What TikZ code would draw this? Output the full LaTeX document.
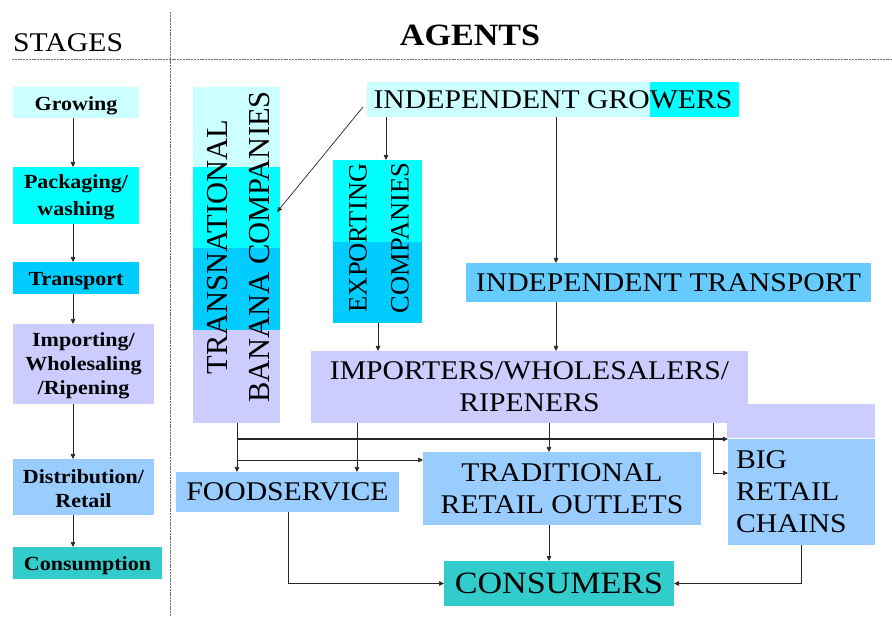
\documentclass[tikz,border=0pt]{standalone}
\usepackage{fontspec}
\setmainfont{Liberation Serif}[FakeStretch=1.1]
\newfontfamily\rotfont{Liberation Serif}
\usetikzlibrary{arrows.meta}
\definecolor{cLCyan}{HTML}{CCFFFF}
\definecolor{cCyan}{HTML}{00FFFF}
\definecolor{cSky}{HTML}{00CCFF}
\definecolor{cLav}{HTML}{CCCCFF}
\definecolor{cPale}{HTML}{99CCFF}
\definecolor{cTeal}{HTML}{33CCCC}
\definecolor{cTrans}{HTML}{66CCFF}
\newcommand\agfont{\fontsize{27}{32}\selectfont}
\newcommand\stgfont{\fontsize{20}{24}\selectfont\bfseries}
\begin{document}
\begin{tikzpicture}[x=1pt,y=-1pt,
  box/.style={rectangle, inner sep=0pt, outer sep=0pt, align=center, font=\agfont},
  stg/.style={rectangle, inner sep=0pt, outer sep=0pt},
  stgtext/.style={inner sep=0pt, align=center, font=\stgfont},
  arr/.style={draw=black!85, line width=0.7pt, -{Triangle[length=5pt,width=4.5pt]}},
  divider/.style={draw=black!55, line width=1pt, dash pattern=on 2pt off 0.8pt}]
\useasboundingbox[fill=white] (0,0) rectangle (892,617);

% dividers
\draw[divider] (170,12) -- (170,617);
\draw[divider] (12,59.5) -- (892,59.5);

% headings
\node[anchor=base west, inner sep=0pt, font=\fontsize{27}{32}\selectfont] (hstages) at (13,52) {STAGES};
\node[anchor=base, inner sep=0pt, font=\fontsize{31}{36}\selectfont\bfseries] (hagents) at (470,46) {AGENTS};

% stages
\node[stg, fill=cLCyan, minimum width=126pt, minimum height=31pt,
  label={[stgtext, yshift=-3pt]center:Growing}] (grow) at (76,102.5) {};
\node[stg, fill=cCyan, minimum width=126pt, minimum height=57pt,
  label={[stgtext, yshift=-2pt, font=\fontsize{20}{27}\selectfont\bfseries]center:{Packaging/\\washing}}] (pack) at (76,195.5) {};
\node[stg, fill=cSky, minimum width=126pt, minimum height=32pt,
  label={[stgtext, yshift=-3pt]center:Transport}] (trsp) at (76,278) {};
\node[stg, fill=cLav, minimum width=141pt, minimum height=80pt,
  label={[stgtext, yshift=-2pt]center:{Importing/\\Wholesaling\\/Ripening}}] (imps) at (83.5,364) {};
\node[stg, fill=cPale, minimum width=141pt, minimum height=56pt,
  label={[stgtext, yshift=-2pt]center:{Distribution/\\Retail}}] (dist) at (83.5,487) {};
\node[stg, fill=cTeal, minimum width=149pt, minimum height=32pt,
  label={[stgtext, yshift=-3pt]center:Consumption}] (cons) at (87.5,563) {};

\coordinate (xa) at (73,0);
\draw[arr] (grow.south -| xa) -- (pack.north -| xa);
\draw[arr] (pack.south -| xa) -- (trsp.north -| xa);
\draw[arr] (trsp.south -| xa) -- (imps.north -| xa);
\draw[arr] (imps.south -| xa) -- (dist.north -| xa);
\draw[arr] (dist.south -| xa) -- (cons.north -| xa);

% agents: fills
\fill[cLCyan] (367,82) rectangle (650,117);
\fill[cCyan] (650,82) rectangle (739,117);
\fill[cLCyan] (193,87) rectangle (280,167);
\fill[cCyan] (193,167) rectangle (280,248);
\fill[cSky] (193,248) rectangle (280,330);
\fill[cLav] (193,330) rectangle (280,423);
\fill[cCyan] (333,160) rectangle (422,242);
\fill[cSky] (333,242) rectangle (422,323);
\fill[cLav] (727,404) rectangle (875,438);

\node[box, minimum width=372pt, minimum height=35pt] (ig) at (553,99.5) {INDEPENDENT GROWERS};
\node[box, minimum width=87pt, minimum height=336pt] (tn) at (236.5,255) {};
\node[rotate=90, inner sep=0pt, align=center, font=\rotfont\fontsize{30.5}{42}\selectfont] (tntext) at (239,247) {TRANSNATIONAL\\BANANA COMPANIES};
\node[box, minimum width=89pt, minimum height=163pt] (exp) at (377.5,241.5) {};
\node[rotate=90, inner sep=0pt, align=center, font=\rotfont\fontsize{26.5}{42}\selectfont] (exptext) at (379,238) {EXPORTING\\COMPANIES};
\node[box, fill=cTrans, minimum width=405pt, minimum height=39pt] (tr) at (668.5,282.5) {INDEPENDENT TRANSPORT};
\node[box, fill=cLav, minimum width=437pt, minimum height=72pt] (imp) at (529.5,387) {IMPORTERS/WHOLESALERS/\\RIPENERS};
\node[box, fill=cPale, minimum width=223pt, minimum height=40pt] (food) at (287.5,492) {FOODSERVICE};
\node[box, fill=cPale, minimum width=278pt, minimum height=73pt] (trad) at (562,488.5) {TRADITIONAL\\RETAIL OUTLETS};
\node[box, fill=cPale, minimum width=147pt, minimum height=106pt, text width=131pt, align=left] (big) at (801.5,492) {BIG\\RETAIL\\CHAINS};
\node[box, fill=cTeal, minimum width=230pt, minimum height=45pt, font=\fontsize{31}{36}\selectfont] (consr) at (559,583.5) {CONSUMERS};

% connectors
\coordinate (xb) at (386,0);
\coordinate (xc) at (556,0);
\coordinate (xd) at (378,0);
\coordinate (xe) at (237,0);
\coordinate (xf) at (357,0);
\coordinate (xg) at (549,0);
\coordinate (xh) at (713,0);
\coordinate (xi) at (288,0);
\coordinate (xj) at (801,0);
\coordinate (j1) at (237,439);
\coordinate (j2) at (237,460);
\coordinate (j3) at (713,473);

\draw[arr] ([shift={(-4pt,-7.5pt)}]ig.west) -- ([shift={(-3pt,43pt)}]tn.east);
\draw[arr] (ig.south -| xb) -- (exp.north -| xb);
\draw[arr] (ig.south -| xc) -- (tr.north -| xc);
\draw[arr] (exp.south -| xd) -- (imp.north -| xd);
\draw[arr] (tr.south -| xc) -- (imp.north -| xc);
\draw[arr] (tn.south -| xe) -- (food.north -| xe);
\draw[arr, line width=1.1pt] (j1) -- (big.west |- j1);
\draw[arr] (j2) -- (trad.west |- j2);
\draw[arr] (imp.south -| xf) -- (food.north -| xf);
\draw[arr] (imp.south -| xg) -- (trad.north -| xg);
\draw[arr] (imp.south -| xh) -- (j3) -- (big.west |- j3);
\draw[arr] (trad.south -| xg) -- (consr.north -| xg);
\draw[arr] (food.south -| xi) |- (consr.west);
\draw[arr] (big.south -| xj) |- (consr.east);
\end{tikzpicture}
\end{document}
